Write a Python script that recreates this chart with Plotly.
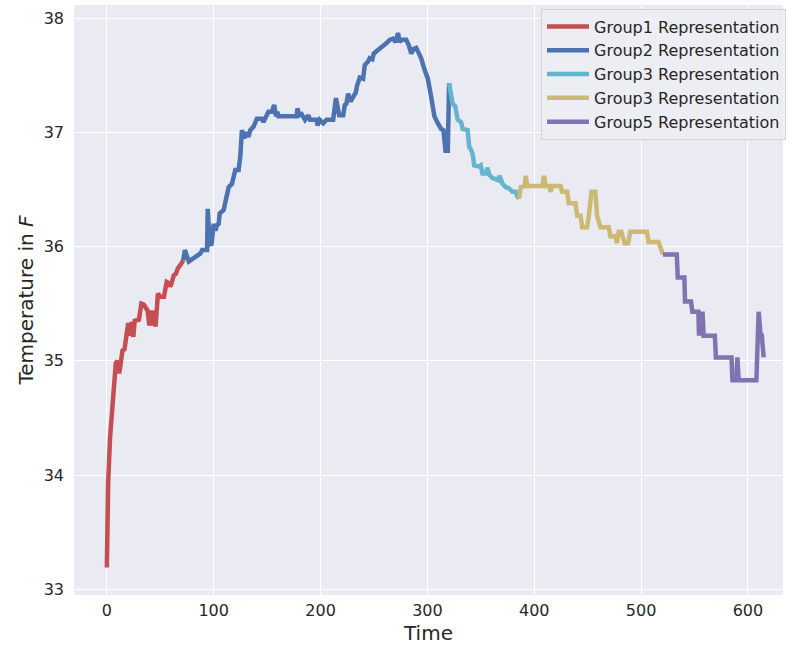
import plotly.graph_objects as go

# Temperature readings, split into the five representation groups
g1_time = [0, 1.2, 3, 5.3, 6.8, 8.4, 10, 11.5, 13, 14.6, 16.5, 18.3, 20, 21.6, 23, 24.8,
           26, 30, 32.3, 34.8, 38, 39.8, 41.6, 42.9, 44.7, 45.6, 47.8, 50, 53.4, 56, 58,
           59.6, 62.7, 64.5, 66.5, 69.6, 71.5]
g1_temp = [33.19, 33.93, 34.33, 34.60, 34.68, 34.98, 35.00, 34.89, 34.98, 35.09, 35.10,
           35.24, 35.33, 35.22, 35.34, 35.21, 35.35, 35.36, 35.50, 35.49, 35.44, 35.31,
           35.44, 35.31, 35.44, 35.30, 35.59, 35.56, 35.56, 35.69, 35.68, 35.65, 35.75,
           35.76, 35.81, 35.85, 35.88]

g2_time = [71.5, 73, 76.7, 78.3, 81.4, 84.5, 87.6, 89.2, 93.8, 94.4, 96.2, 97.8, 100,
           101.6, 103.2, 104.7, 105.6, 109.3, 111.8, 114, 117.1, 118.6, 120.2, 123.3,
           124.9, 126.4, 128.6, 131, 132.6, 134.2, 137.3, 140.4, 145, 146.6, 148.2, 151.2,
           154.4, 156.6, 158.4, 159.6, 160.6, 177.7, 178.3, 180.2, 182.3, 184, 185.5,
           188.6, 190.2, 196.3, 197.2, 199.3, 202.5, 205.6, 211.8, 214.4, 217.4, 221.2,
           222.7, 224.2, 225.8, 228, 230.5, 233, 234.2, 236.7, 239.8, 241.4, 244.5, 246,
           248.5, 249.8, 252.3, 253.8, 258.4, 261.5, 264.7, 267.8, 270.3, 272.5, 274,
           275.6, 280.2, 282.7, 284.9, 287, 289.5, 292, 294.1, 297.3, 300.4, 303.5, 306.6,
           309.7, 312.9, 315, 316.9, 319.1, 320.3]
g2_temp = [35.88, 35.97, 35.87, 35.88, 35.90, 35.92, 35.94, 35.97, 35.97, 36.33, 36.03,
           36.01, 36.20, 36.14, 36.19, 36.20, 36.29, 36.32, 36.42, 36.52, 36.55, 36.61,
           36.67, 36.67, 36.79, 37.02, 36.95, 37.00, 36.96, 37.02, 37.05, 37.12, 37.12,
           37.09, 37.13, 37.18, 37.18, 37.24, 37.14, 37.18, 37.14, 37.14, 37.21, 37.15,
           37.16, 37.14, 37.11, 37.15, 37.11, 37.11, 37.06, 37.11, 37.08, 37.11, 37.11,
           37.30, 37.15, 37.15, 37.24, 37.25, 37.34, 37.27, 37.31, 37.35, 37.41, 37.48,
           37.47, 37.59, 37.62, 37.65, 37.64, 37.69, 37.71, 37.72, 37.76, 37.78, 37.81,
           37.82, 37.79, 37.87, 37.79, 37.81, 37.81, 37.76, 37.69, 37.73, 37.74, 37.69,
           37.65, 37.55, 37.47, 37.31, 37.14, 37.08, 37.03, 37.02, 36.84, 36.84, 37.43]

g3_time = [320.3, 322.1, 323.6, 326, 328.4, 331.5, 333, 337.6, 339.2, 340.8, 342.3,
           343.9, 348.6, 350, 351.5, 354.5, 356.3, 357.8, 360.9, 364, 366.5, 367.5,
           370.3, 373.4, 376.5, 379.6, 382.6, 384.2, 385.8]
g3_temp = [37.43, 37.34, 37.25, 37.23, 37.11, 37.09, 37.03, 37.02, 36.87, 36.85, 36.81,
           36.71, 36.70, 36.71, 36.64, 36.64, 36.69, 36.63, 36.60, 36.59, 36.58, 36.62,
           36.55, 36.52, 36.51, 36.48, 36.48, 36.44, 36.42]

g4_time = [385.8, 387.3, 391, 392, 393.5, 407.5, 409.1, 410.6, 414, 415.3, 416.8, 424.6,
           426.2, 430.8, 432.4, 438.6, 440.2, 443.3, 444.9, 449.5, 451.1, 453.5, 457.2,
           458.8, 461.9, 469.7, 471.2, 475.9, 477.4, 479, 481.5, 484.5, 487.8, 489.9,
           505.4, 507, 516.3, 520.5]
g4_temp = [36.42, 36.52, 36.53, 36.62, 36.53, 36.53, 36.62, 36.53, 36.53, 36.48, 36.53,
           36.53, 36.48, 36.48, 36.38, 36.38, 36.27, 36.27, 36.17, 36.17, 36.27, 36.48,
           36.48, 36.27, 36.17, 36.17, 36.09, 36.09, 36.03, 36.13, 36.13, 36.03, 36.03,
           36.13, 36.13, 36.04, 36.04, 35.93]

g5_time = [520.5, 533.4, 534.3, 540.5, 541.1, 546.7, 548, 553.6, 554.2, 555, 555.8, 556.5,
           557.5, 558.5, 569, 570, 584.6, 585.5, 589.2, 590.1, 591.3, 607.9, 610, 611.9,
           613, 614.7]
g5_temp = [35.93, 35.93, 35.73, 35.73, 35.52, 35.52, 35.43, 35.43, 35.22, 35.43, 35.22,
           35.43, 35.43, 35.22, 35.22, 35.03, 35.03, 34.83, 34.83, 35.03, 34.83, 34.83,
           35.43, 35.22, 35.22, 35.03]

group_names = ["Group1 Representation", "Group2 Representation", "Group3 Representation",
               "Group3 Representation", "Group5 Representation"]
group_colors = ["#C44E52", "#4C72B0", "#64B5CD", "#CCB974", "#8172B2"]

x_ticks = [0, 100, 200, 300, 400, 500, 600]
y_ticks = [33, 34, 35, 36, 37, 38]

series = [(g1_time, g1_temp), (g2_time, g2_temp), (g3_time, g3_temp),
          (g4_time, g4_temp), (g5_time, g5_temp)]

fig = go.Figure()
for (t, v), name, color in zip(series, group_names, group_colors):
    assert len(t) == len(v)
    fig.add_trace(go.Scatter(x=t, y=v, mode="lines", name=name,
                             line=dict(color=color, width=4.5)))

text_color = "#262626"
fig.update_layout(
    width=786, height=645,
    margin=dict(l=74, r=0, t=5, b=50),
    paper_bgcolor="white",
    plot_bgcolor="#EAEAF2",
    font=dict(family="DejaVu Sans", color=text_color, size=16),
    legend=dict(x=0.659, y=0.994, xanchor="left", yanchor="top",
                bgcolor="rgba(237,237,244,0.9)", bordercolor="rgba(204,204,204,0.8)",
                borderwidth=1, font=dict(size=16, color=text_color), itemwidth=42),
    xaxis=dict(range=[-30.75, 632.8], tickvals=x_ticks, showgrid=True,
               gridcolor="white", gridwidth=1.3, zeroline=False, showline=False,
               ticks="", tickfont=dict(size=16), ticklabelstandoff=4,
               title=dict(text="Time", font=dict(size=20), standoff=6)),
    yaxis=dict(range=[32.95, 38.115], tickvals=y_ticks, showgrid=True,
               gridcolor="white", gridwidth=1.3, zeroline=False, showline=False,
               ticks="", tickfont=dict(size=16), ticklabelstandoff=9,
               title=dict(text="Temperature in <i>F</i>", font=dict(size=20), standoff=4)),
)

fig.write_html("out.html")
